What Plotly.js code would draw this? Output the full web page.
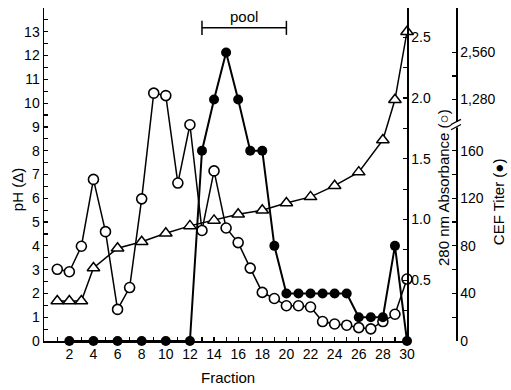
<!DOCTYPE html>
<html>
<head>
<meta charset="utf-8">
<script src="https://cdn.plot.ly/plotly-3.0.1.min.js"></script>
<style>html,body{margin:0;padding:0;background:#fff;}#chart{width:511px;height:390px;}</style>
</head>
<body>
<div id="chart"></div>
<script>
// pH (triangles)
const phFractions = [1,2,3,4,6,8,10,12,14,16,18,20,22,24,26,28,29,30];
const phValues    = [1.68,1.68,1.68,3.07,3.9,4.17,4.53,4.84,5.07,5.33,5.5,5.8,6.06,6.53,7.1,8.45,10.14,13.0];

// 280 nm absorbance (open circles)
const absFractions = [1,2,3,4,5,6,7,8,9,10,11,12,13,14,15,16,17,18,19,20,21,22,23,24,25,26,27,28,29,30];
const absValues    = [0.59,0.57,0.78,1.33,0.90,0.26,0.44,1.17,2.04,2.02,1.30,1.78,0.91,1.40,0.93,0.81,0.60,0.40,0.35,0.29,0.29,0.28,0.16,0.14,0.13,0.11,0.10,0.16,0.22,0.51];

// CEF titer (filled circles)
const titerFractions = [2,4,6,8,10,12,13,14,15,16,17,18,19,20,21,22,23,24,25,26,27,28,29,30];
const titerValues    = [0,0,0,0,0,0,160,1280,2560,1280,160,160,80,40,40,40,40,40,40,20,20,20,80,0];

// titer axis ticks (broken axis: linear up to 160, doubling steps above the break)
const titerTickVals  = [0,20,40,60,80,100,120,140,160,1280,1810,2560];
const titerTickText  = ['0','','40','','80','','120','','160','1,280','','2,560'];
const xTickVals = Array.from({length:30},(_,i)=>i+1);
const xTickText = xTickVals.map(v => v%2===0 ? String(v) : '');
const phTickVals = []; const phTickText = [];
for (let v=0; v<=13.5; v+=0.5){ phTickVals.push(v); phTickText.push(Number.isInteger(v)?String(v):''); }
const absTickVals = []; const absTickText = [];
for (let v=0.25; v<=2.51; v+=0.25){ absTickVals.push(+v.toFixed(2)); absTickText.push(Math.abs(v*2-Math.round(v*2))<1e-9 ? v.toFixed(1) : ''); }

// broken titer scale -> position on the shared vertical scale
function titerPos(t){ return t<=160 ? t/20 : 10.15 + Math.log2(t/1280)*1.98; }

const traces = [
  {x: titerFractions, y: titerValues.map(titerPos), yaxis:'y3', mode:'lines+markers', cliponaxis:false,
   line:{color:'#000', width:2}, marker:{symbol:'circle', size:10, color:'#000'}, hoverinfo:'none'},
  {x: absFractions, y: absValues, yaxis:'y2', mode:'lines+markers', cliponaxis:false,
   line:{color:'#000', width:1.5}, marker:{symbol:'circle', size:10, color:'#fff', line:{color:'#000', width:1.6}}, hoverinfo:'none'},
  {x: phFractions, y: phValues, yaxis:'y', mode:'lines+markers', cliponaxis:false,
   line:{color:'#000', width:1.5}, marker:{symbol:'triangle-up', size:11, color:'#fff', line:{color:'#000', width:1.5}}, hoverinfo:'none'}
];

const font = {family:'Liberation Sans, Arial, sans-serif', size:14, color:'#000'};
const tfont = {family:font.family, size:15, color:'#000'};
const axBase = {showgrid:false, zeroline:false, showline:true, linecolor:'#000', linewidth:1.5,
  ticks:'inside', ticklen:4, tickcolor:'#000', tickwidth:1.2, tickfont:font};

const layout = {
  width:511, height:390, margin:{l:44, r:55, t:8, b:49},
  paper_bgcolor:'#fff', plot_bgcolor:'rgba(0,0,0,0)', showlegend:false, font:font,
  xaxis: Object.assign({}, axBase, {domain:[0, 363/412], range:[-0.1, 30], tickvals:xTickVals, ticktext:xTickText}),
  yaxis: Object.assign({}, axBase, {range:[0, 14.0], tickvals:phTickVals, ticktext:phTickText}),
  yaxis2: Object.assign({}, axBase, {overlaying:'y', side:'right', anchor:'x', range:[0, 2.741], tickvals:absTickVals, ticktext:absTickText}),
  yaxis3: Object.assign({}, axBase, {overlaying:'y', side:'right', anchor:'free', position:1, range:[0, 14.0],
    tickvals: titerTickVals.map(titerPos), ticktext: titerTickText}),
  shapes: [
    // pool bracket
    {type:'line', xref:'x', yref:'y', x0:13, x1:20, y0:13.17, y1:13.17, line:{color:'#000', width:1.5}},
    {type:'line', xref:'x', yref:'y', x0:13, x1:13, y0:12.87, y1:13.46, line:{color:'#000', width:1.5}},
    {type:'line', xref:'x', yref:'y', x0:20, x1:20, y0:12.87, y1:13.46, line:{color:'#000', width:1.5}},
    // axis break on titer axis
    {type:'rect', xref:'paper', yref:'y', x0:0.994, x1:1.006, y0:8.98, y1:9.22, fillcolor:'#fff', line:{width:0}},
    {type:'line', xref:'paper', yref:'y', x0:0.988, x1:1.012, y0:9.10, y1:9.32, line:{color:'#000', width:1.3}},
    {type:'line', xref:'paper', yref:'y', x0:0.988, x1:1.012, y0:8.88, y1:9.10, line:{color:'#000', width:1.3}}
  ],
  annotations: [
    {text:'pool', xref:'x', yref:'y', x:16.5, y:13.63, xanchor:'center', yanchor:'middle', showarrow:false, font:tfont},
    {text:'pH (Δ)', xref:'paper', yref:'paper', x:-0.0655, y:0.453, xanchor:'center', yanchor:'middle', textangle:-90, showarrow:false, font:tfont},
    {text:'280 nm Absorbance (○)', xref:'paper', yref:'paper', x:0.968, y:0.462, xanchor:'center', yanchor:'middle', textangle:-90, showarrow:false, font:tfont},
    {text:'CEF Titer (●)', xref:'paper', yref:'paper', x:1.102, y:0.417, xanchor:'center', yanchor:'middle', textangle:-90, showarrow:false, font:tfont},
    {text:'Fraction', xref:'paper', yref:'paper', x:0.447, y:-0.111, xanchor:'center', yanchor:'middle', showarrow:false, font:tfont}
  ]
};

Plotly.newPlot('chart', traces, layout, {staticPlot:true, displayModeBar:false});
</script>
</body>
</html>
